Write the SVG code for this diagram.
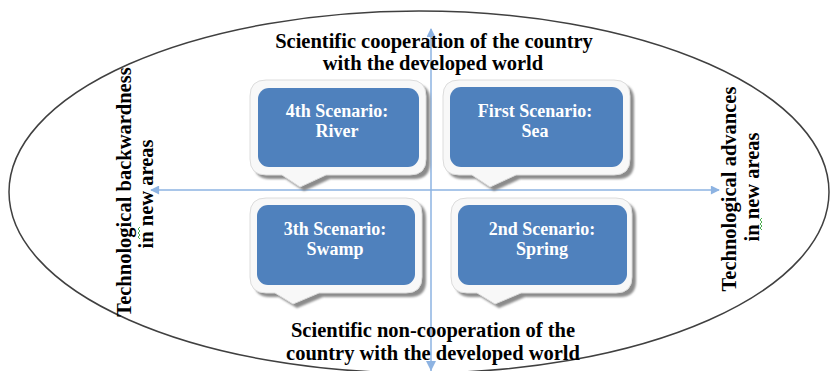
<svg xmlns="http://www.w3.org/2000/svg" width="830" height="371" viewBox="0 0 830 371">
<defs>
<style>
.title{font-family:"Liberation Serif","Times New Roman",serif;font-weight:bold;font-size:20.5px;fill:#000;text-anchor:middle}
.box-t{font-family:"Liberation Serif","Times New Roman",serif;font-weight:bold;font-size:18px;fill:#fff;text-anchor:middle}
.shadow{fill:#7f7f7f;opacity:0.9}
.border{fill:#f8f8f8;stroke:#dcdcdc;stroke-width:1}
.inner{fill:#4f81bd}
.axis{stroke:#8db3e2;stroke-width:1.5;fill:none}
.squig{stroke:#4caf50;stroke-width:1;fill:none}
</style>
<marker id="ah" viewBox="0 0 10 10" refX="9" refY="5" markerWidth="10" markerHeight="9" orient="auto-start-reverse" markerUnits="userSpaceOnUse">
<path d="M0,0 L10,5 L0,10 Z" fill="#8db3e2"/>
</marker>
<filter id="blur" x="-10%" y="-10%" width="120%" height="130%"><feGaussianBlur stdDeviation="1.2"/></filter>
</defs>

<ellipse cx="419" cy="192" rx="410" ry="181" fill="none" stroke="#404040" stroke-width="1.5"/>

<g id="connectors">
<line class="axis" x1="431" y1="371" x2="431" y2="29" marker-end="url(#ah)"/>
<path d="M426,361 L436,361 L431,371 Z" fill="#8db3e2"/>
<line class="axis" x1="151" y1="190" x2="719" y2="190" marker-start="url(#ah)" marker-end="url(#ah)"/>
</g>

<g id="node-river">
<path class="shadow" filter="url(#blur)" transform="translate(4,4)" d="M266,80 H410 Q426,80 426,96 V159 Q426,175 410,175 H326 L300,187 L282,175 H266 Q250,175 250,159 V96 Q250,80 266,80 Z"/>
<path class="border" d="M266,80 H410 Q426,80 426,96 V159 Q426,175 410,175 H326 L300,187 L282,175 H266 Q250,175 250,159 V96 Q250,80 266,80 Z"/>
<rect class="inner" x="258" y="88" width="161" height="79" rx="11"/>
<text class="box-t" x="337" y="117">4th Scenario:</text>
<text class="box-t" x="337" y="137">River</text>
</g>

<g id="node-sea">
<path class="shadow" filter="url(#blur)" transform="translate(4,4)" d="M459,80 H614 Q630,80 630,96 V159 Q630,175 614,175 H516 L490,187 L472,175 H459 Q443,175 443,159 V96 Q443,80 459,80 Z"/>
<path class="border" d="M459,80 H614 Q630,80 630,96 V159 Q630,175 614,175 H516 L490,187 L472,175 H459 Q443,175 443,159 V96 Q443,80 459,80 Z"/>
<rect class="inner" x="450" y="87" width="173" height="80" rx="11"/>
<text class="box-t" x="535" y="117">First Scenario:</text>
<text class="box-t" x="535" y="137">Sea</text>
</g>

<g id="node-swamp">
<path class="shadow" filter="url(#blur)" transform="translate(4,4)" d="M266,198 H406 Q422,198 422,214 V277 Q422,293 406,293 H319 L293,304 L275,293 H266 Q250,293 250,277 V214 Q250,198 266,198 Z"/>
<path class="border" d="M266,198 H406 Q422,198 422,214 V277 Q422,293 406,293 H319 L293,304 L275,293 H266 Q250,293 250,277 V214 Q250,198 266,198 Z"/>
<rect class="inner" x="257" y="205" width="158" height="80" rx="11"/>
<text class="box-t" x="335" y="235">3th Scenario:</text>
<text class="box-t" x="335" y="255">Swamp</text>
</g>

<g id="node-spring">
<path class="shadow" filter="url(#blur)" transform="translate(4,4)" d="M467,198 H616 Q632,198 632,214 V277 Q632,293 616,293 H521 L495,304 L477,293 H467 Q451,293 451,277 V214 Q451,198 467,198 Z"/>
<path class="border" d="M467,198 H616 Q632,198 632,214 V277 Q632,293 616,293 H521 L495,304 L477,293 H467 Q451,293 451,277 V214 Q451,198 467,198 Z"/>
<rect class="inner" x="458" y="205" width="169" height="80" rx="11"/>
<text class="box-t" x="542" y="235">2nd Scenario:</text>
<text class="box-t" x="542" y="255">Spring</text>
</g>

<g id="label-top">
<text class="title" x="434" y="48">Scientific cooperation of the country</text>
<text class="title" x="433" y="70">with the developed world</text>
</g>

<g id="label-bottom">
<text class="title" x="433" y="337">Scientific non-cooperation of the</text>
<text class="title" x="433" y="360">country with the developed world</text>
</g>

<g id="label-left">
<text class="title" transform="translate(131,192) rotate(-90)">Technological backwardness</text>
<text class="title" transform="translate(153,194) rotate(-90)">in new areas</text>
<path class="squig" d="M140,227 l-2,2 l2,2 l-2,2 l2,2 l-2,2 l2,2"/>
</g>

<g id="label-right">
<text class="title" transform="translate(736,189) rotate(-90)">Technological advances</text>
<text class="title" transform="translate(759,187) rotate(-90)">in new areas</text>
<path class="squig" d="M762,218 l-2,2 l2,2 l-2,2 l2,2 l-2,2 l2,2"/>
</g>
</svg>
